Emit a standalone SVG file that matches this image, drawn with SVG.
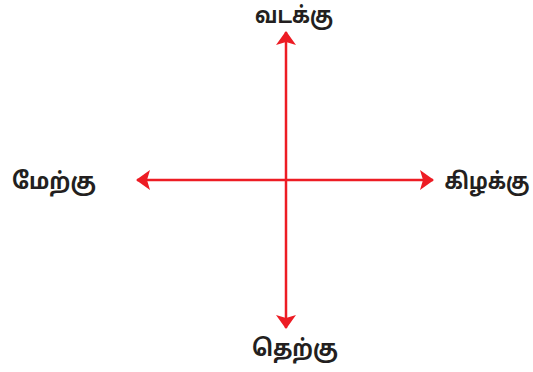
<svg xmlns="http://www.w3.org/2000/svg" width="533" height="372" viewBox="0 0 533 372">
<style>
.lbl{font-family:"Noto Sans Tamil","Noto Sans","Liberation Sans",sans-serif;font-weight:bold;font-size:23px;fill:#231f20}
.ax{stroke:#ed1c24;stroke-width:2.5;fill:none}
</style>
<defs>
<marker id="ah" viewBox="0 0 14 20" refX="13" refY="10" markerWidth="14" markerHeight="20" markerUnits="userSpaceOnUse" orient="auto-start-reverse">
<path d="M0,0 L14,10 L0,20 L3,10 Z" fill="#ed1c24"/>
</marker>
</defs>
<rect width="533" height="372" fill="#fff"/>
<g id="connectors">
<line class="ax" x1="286" y1="32" x2="286" y2="328" marker-start="url(#ah)" marker-end="url(#ah)"/>
<line class="ax" x1="137" y1="180" x2="433" y2="180" marker-start="url(#ah)" marker-end="url(#ah)"/>
</g>
<g id="north"><text class="lbl" x="294" y="23" text-anchor="middle" textLength="78" lengthAdjust="spacingAndGlyphs">வடக்கு</text></g>
<g id="west"><text class="lbl" x="54" y="189" text-anchor="middle" textLength="84" lengthAdjust="spacingAndGlyphs">மேற்கு</text></g>
<g id="east"><text class="lbl" x="487" y="189" text-anchor="middle" textLength="85" lengthAdjust="spacingAndGlyphs">கிழக்கு</text></g>
<g id="south"><text class="lbl" x="295" y="356" text-anchor="middle" textLength="86" lengthAdjust="spacingAndGlyphs">தெற்கு</text></g>
</svg>
